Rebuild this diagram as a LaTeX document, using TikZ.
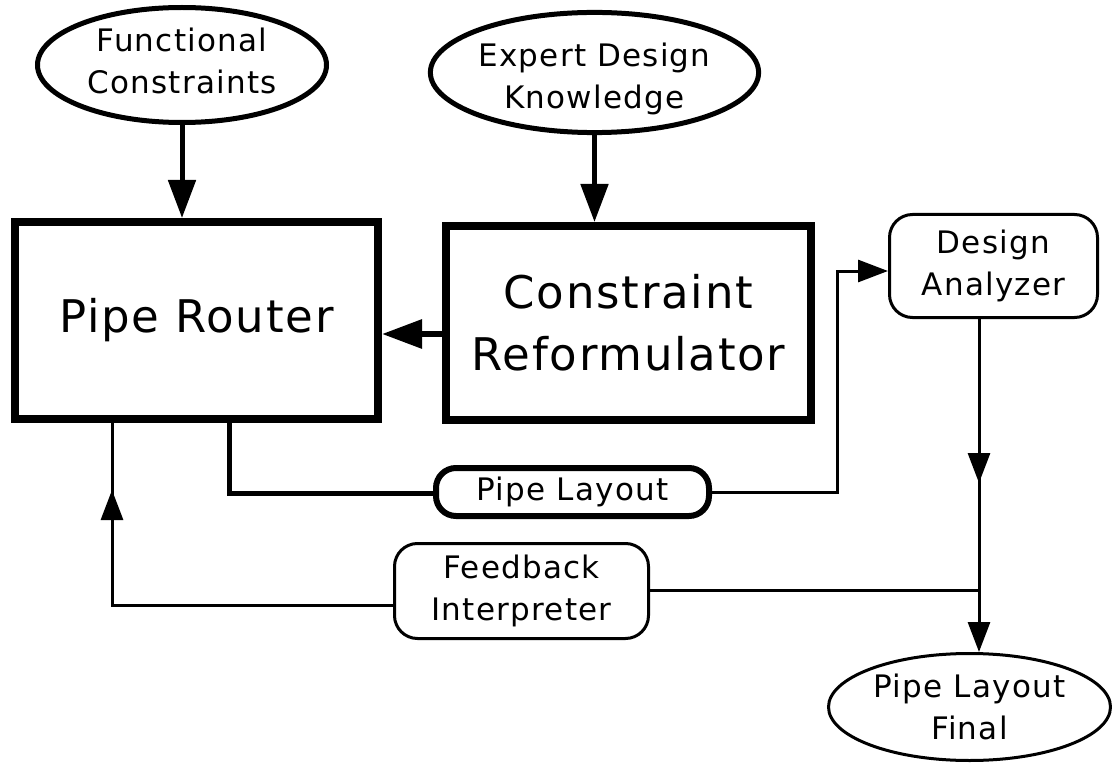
\documentclass[tikz,border=0pt]{standalone}
\usepackage{fontspec}
\setmainfont{DejaVu Sans}[LetterSpace=4]
\usetikzlibrary{arrows.meta,shapes.geometric}

\begin{document}
\begin{tikzpicture}[x=1pt,y=-1pt,
  bigtext/.style={font=\fontsize{45}{62}\selectfont},
  smalltext/.style={font=\fontsize{31}{42}\selectfont},
  source/.style={ellipse, draw, line width=5pt, smalltext, align=center, inner sep=0pt},
  result/.style={ellipse, draw, line width=3pt, smalltext, align=center, inner sep=0pt},
  module/.style={rectangle, draw, line width=8pt, bigtext, align=center, inner sep=0pt},
  helper/.style={rectangle, draw, rounded corners=23pt, line width=3pt, smalltext, align=center, inner sep=0pt},
  datum/.style={rectangle, draw, rounded corners=20pt, line width=6pt, smalltext, align=center, inner sep=0pt},
  heavyflow/.style={line width=5pt, -{Triangle[length=38pt, width=27pt]}},
  pushflow/.style={line width=6pt, -{Triangle[length=40pt, width=28pt]}},
  thinflow/.style={line width=3pt, -{Triangle[length=30pt, width=22pt]}},
  thinline/.style={line width=3pt},
  heavyline/.style={line width=5pt},
]
\useasboundingbox (0,0) rectangle (1112,765);

% inputs (zero-width struts set the text a little off the ellipse centre)
\node[source, minimum width=289pt, minimum height=115pt] (FC) at (182,65)
  {Functional\\Constraints\rule[-8pt]{0pt}{0pt}};
\node[source, minimum width=315pt, minimum height=104pt] (EDK) at (594.5,72.5)
  {\rule{0pt}{36.5pt}Expert Design\\Knowledge};

% main modules
\node[module, minimum width=363pt, minimum height=197pt] (PR) at (196.5,320.5) {Pipe Router};
\node[module, minimum width=365pt, minimum height=194pt] (CR) at (628.5,323) {Constraint\\Reformulator};

% intermediate data and helpers
\node[datum, minimum width=273pt, minimum height=48pt] (PL) at (572.5,492) {Pipe Layout};
\node[helper, minimum width=208pt, minimum height=103pt] (DA) at (993.5,266) {Design\\Analyzer};
\node[helper, minimum width=254pt, minimum height=95pt] (FI) at (521.5,591) {Feedback\\Interpreter};

% output
\node[result, minimum width=282pt, minimum height=107pt] (PLF) at (969.5,707) {Pipe Layout\\Final};

% routing points
\coordinate (j)   at (979,590);
\coordinate (m1)  at (979,483);
\coordinate (pl)  at (229,493);
\coordinate (c1)  at (837,271);
\coordinate (fb)  at (112,605);
\coordinate (fbm) at (112,490);
\coordinate (cr)  at (0,334);

% inputs into modules
\draw[heavyflow] (FC.south) -- (FC.south |- PR.north);
\draw[heavyflow] (EDK.south) -- (EDK.south |- CR.north);

% reformulated constraints into the router
\draw[pushflow] (CR.west |- cr) -- (PR.east |- cr);

% router output to pipe layout
\draw[heavyline] (pl |- PR.south) -- (pl) -- (pl -| PL.west);

% pipe layout to design analyzer
\draw[thinflow] (PL.east) -| (c1) -- (c1 -| DA.west);

% analyzer down to final layout, with a second head half way
\draw[thinflow] (DA.south -| j) -- (PLF.north -| j);
\draw[thinflow] (DA.south -| j) -- (m1);

% feedback loop, head on the rising leg
\draw[thinline] (j -| FI.east) -- (j);
\draw[thinline] (fb -| FI.west) -- (fb) -- (fb |- PR.south);
\draw[thinflow] (fb) -- (fbm);
\end{tikzpicture}
\end{document}
